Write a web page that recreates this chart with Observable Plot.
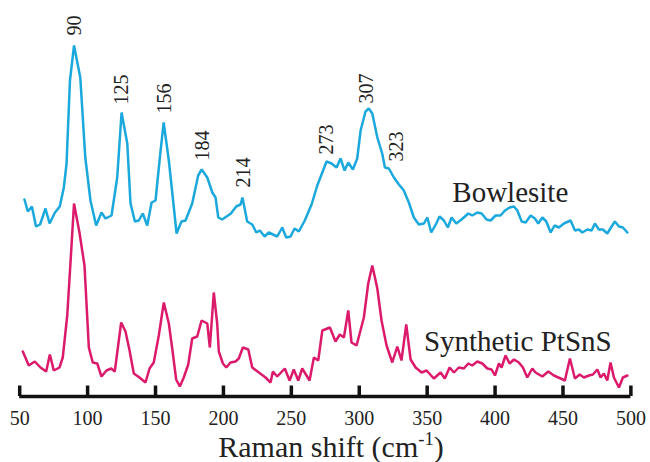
<!DOCTYPE html>
<html>
<head>
<meta charset="utf-8">
<script src="https://cdn.jsdelivr.net/npm/d3@7"></script>
<script src="https://cdn.jsdelivr.net/npm/@observablehq/plot@0.6"></script>
<style>
  html, body { margin: 0; padding: 0; background: #fff; }
  #wrap { width: 650px; height: 462px; position: relative; overflow: hidden; }
  #xlabel { position: absolute; left: 0; top: 432px; width: 650px; padding-left: 12px; box-sizing: border-box;
    text-align: center; font-family: "Liberation Serif", serif; font-size: 30px; line-height: 30px; color: #222; }
  #xlabel sup { font-size: 0.62em; line-height: 0; vertical-align: 12px; }
  #chart svg text { font-family: "Liberation Serif", serif; }
</style>
</head>
<body>
<div id="wrap"><div id="chart"></div><div id="xlabel">Raman shift (cm<sup>-1</sup>)</div></div>
<script>
// Raman shift (cm-1) and relative intensity (arbitrary units, offset traces)
const bowlesiteShift = [53.5,56,59,62,65,69,72,76,79.5,82.5,84.5,87,90,94.6,98.3,102.1,106.3,110.2,113.2,117.6,121.8,125,129.2,131.6,134.8,137.7,140.6,143.9,147.1,150,153.2,156,159.8,162.7,165.5,169.1,172.1,177,181.4,184,188.1,191.8,194.2,196.2,199.1,205.5,209.4,212.6,214,217.5,221.2,224.2,226.8,230.3,233.4,239.6,243.3,246.2,249.4,252.4,255.5,259.9,264.9,269.1,272.8,275.9,279.6,283.3,286.2,289.2,291.9,295.3,298.5,301,304.6,307,309.6,313.3,316.9,318.9,321.8,325.5,329.2,332.8,336.5,340.2,343.9,347.6,350.1,353,356.7,359.1,362.3,365.2,368,371.4,375.3,380.3,383.2,386.9,390.1,393.7,396.7,400.4,404,407.3,410.7,413.9,416.4,419.6,422.5,426.2,429.3,431.8,434.8,437.7,440.9,443.8,447,450.7,455.6,458.8,461.7,464.2,467.9,471.1,473.5,476.4,479.4,482.6,485.8,488.2,491.2,494.1,497.4];
const bowlesiteIntensity = [201,189,194,174,176,192,177,188,194,213,237,320,355,323,243,200,175,188,182,185,223,288,257,197,179,180,187,175,198,200,243,278,240,203,167,179,180,197,225,231,223,208,203,183,181,187,194,196,203,179,176,168,170,164,168,164,173,163,164,172,169,180,196,215,228,239,237,233,242,230,238,231,242,270,289,292,287,263,247,233,232,223,216,210,198,183,176,177,183,168,177,184,180,173,183,177,181,187,185,188,187,181,180,185,185,190,193,194,190,179,178,185,182,177,183,179,168,175,173,177,180,170,171,168,171,170,177,171,171,167,174,179,174,173,168];

const ptsnsShift = [52.3,56.7,61.1,65.3,69.5,72.2,75.1,79.3,81.7,85,87.4,90,94,97.7,100.9,103.8,107.1,110.2,113.9,117.4,120,124.7,127.9,130.9,134,138.2,142.6,145.6,148.7,152.4,156.1,159.8,162.3,165.2,167.9,170.8,174.1,177,180.7,183.9,188.1,190,192.9,195.4,196.6,199.6,202.1,205.2,208.9,211.3,214.3,218.3,221.2,226.1,231,234.7,236.4,239.6,245.2,248.7,251.8,255.1,258,263.4,266.6,269.8,272.8,278.4,282.5,285.7,288.7,291.9,294.3,298,303.4,306.6,309.6,313.3,316.4,320.1,324.3,328,331.1,334.6,337.8,341.5,345.9,349.6,354.9,359.9,363,366.5,369.7,373.3,377,380.3,383.2,386.9,390.6,394.3,397.4,399.9,402.8,404.8,407.7,410.7,413.9,417.5,420.5,423.7,427.4,429.8,434.8,439.2,443.3,448.3,451.4,455.1,458.8,462.3,465.4,469.1,472,475.3,477.7,480.1,482.6,485,487.5,491.2,494.1,497.4];
const ptsnsIntensity = [49,35,39,33,29,46,30,33,43,85,138,197,168,135,53,38,37,24,30,32,29,78,69,50,27,23,18,32,38,65,98,77,52,21,14,23,36,62,64,80,77,53,108,77,49,37,33,38,39,42,53,51,33,28,23,18,29,24,32,20,31,20,32,20,43,40,70,73,59,66,63,90,58,55,83,117,135,112,80,55,38,54,40,76,41,33,28,30,22,28,22,33,28,33,32,37,35,39,37,32,31,25,37,33,45,37,41,38,33,23,32,28,24,29,25,22,20,42,22,26,23,25,26,31,23,27,20,38,23,13,23,25];

// peak annotations (Bowlesite trace)
const peakLabels = ["90","125","156","184","214","273","307","323"];
const peakShift = [90.5,125,157,184.5,214.5,276,305.5,327.5];
const peakLabelBase = [365,296,287,240,213,246,297,239];

// series names
const seriesNames = ["Bowlesite","Synthetic PtSnS"];
const seriesNameShift = [368.5,347.6];
const seriesNameIntensity = [208,59];

// x-axis ticks
const tickValues = [50,100,150,200,250,300,350,400,450,500];

const colors = {"Bowlesite": "#1ba8dc", "Synthetic PtSnS": "#dc1a6c"};
const serif = "'Liberation Serif', 'Times New Roman', serif";

const bowlesite = bowlesiteShift.map((x, i) => ({x, y: bowlesiteIntensity[i]}));
const ptsns = ptsnsShift.map((x, i) => ({x, y: ptsnsIntensity[i]}));
const peaks = peakLabels.map((t, i) => ({t, x: peakShift[i], y: peakLabelBase[i]}));
const names = seriesNames.map((t, i) => ({t, x: seriesNameShift[i], y: seriesNameIntensity[i]}));

const chart = Plot.plot({
  width: 650,
  height: 432,
  marginLeft: 19.2,
  marginRight: 19.6,
  marginTop: 0,
  marginBottom: 36,
  style: {fontFamily: serif, color: "#222", background: "#fff"},
  x: {domain: [50, 500], label: null},
  y: {domain: [4, 400], axis: null},
  marks: [
    Plot.line(bowlesite, {x: "x", y: "y", stroke: colors["Bowlesite"], strokeWidth: 2.5, strokeLinejoin: "miter"}),
    Plot.line(ptsns, {x: "x", y: "y", stroke: colors["Synthetic PtSnS"], strokeWidth: 2.5, strokeLinejoin: "miter"}),
    Plot.text(peaks, {x: "x", y: "y", text: "t", rotate: -90, textAnchor: "start", lineAnchor: "middle", fontSize: 20, fontFamily: serif, fill: "#222"}),
    Plot.text(names, {x: "x", y: "y", text: "t", textAnchor: "start", lineAnchor: "middle", fontSize: 29, fontFamily: serif, fill: "#222"}),
    Plot.ruleX(tickValues, {y1: 4, y2: 14.5, stroke: "#111", strokeWidth: 3.5}),
    Plot.ruleY([4], {x1: 50, x2: 500, stroke: "#111", strokeWidth: 3.5}),
    Plot.axisX({ticks: tickValues, tickSize: 0, tickPadding: 14, fontSize: 20, fontFamily: serif, tickFormat: d => String(d), label: null})
  ]
});
document.getElementById("chart").appendChild(chart);
</script>
</body>
</html>
